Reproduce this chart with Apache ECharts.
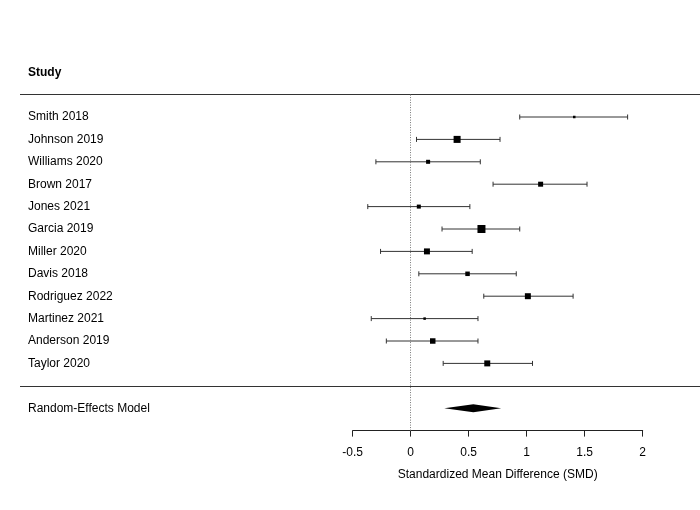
<!DOCTYPE html>
<html>
<head>
<meta charset="utf-8">
<script src="https://cdn.jsdelivr.net/npm/echarts@6/dist/echarts.min.js"></script>
<style>
  html, body { margin: 0; padding: 0; background: #fff; }
  #chart { width: 700px; height: 510px; }
</style>
</head>
<body>
<div id="chart"></div>
<script>
const studies = [
  "Smith 2018", "Johnson 2019", "Williams 2020", "Brown 2017", "Jones 2021", "Garcia 2019",
  "Miller 2020", "Davis 2018", "Rodriguez 2022", "Martinez 2021", "Anderson 2019", "Taylor 2020"
];
const smd = [1.41, 0.40, 0.15, 1.12, 0.07, 0.61, 0.14, 0.49, 1.01, 0.12, 0.19, 0.66];
const ciLower = [0.94, 0.05, -0.30, 0.71, -0.37, 0.27, -0.26, 0.07, 0.63, -0.34, -0.21, 0.28];
const ciUpper = [1.87, 0.77, 0.60, 1.52, 0.51, 0.94, 0.53, 0.91, 1.40, 0.58, 0.58, 1.05];
// study weights in percent
const weights = [4.1, 11.5, 6.6, 8.2, 6.6, 13.1, 9.8, 7.4, 9.8, 4.1, 9.0, 9.8];

const pooled = { label: "Random-Effects Model", est: 0.54, lower: 0.29, upper: 0.78 };
const xTicks = [-0.5, 0, 0.5, 1, 1.5, 2];

// row positions: header at -2, separators at -1 and 12, model at 13
const headerRow = -2;
const modelRow = studies.length + 1;
const separatorRows = [-1, studies.length];

const fontFamily = "'Liberation Sans', Arial, sans-serif";
const chart = echarts.init(document.getElementById("chart"));

function rowLabel(v) {
  if (v === headerRow) return "{b|Study}";
  if (v === modelRow) return pooled.label;
  if (v >= 0 && v < studies.length) return studies[v];
  return "";
}

const studyData = studies.map((name, i) => [smd[i], i, ciLower[i], ciUpper[i], weights[i]]);

chart.setOption({
  animation: false,
  backgroundColor: "#fff",
  textStyle: { fontFamily: fontFamily },
  grid: [
    { left: 352.7, right: 57.3, top: 49.8, bottom: 79.4 },
    { left: 20, right: 0, top: 49.8, bottom: 79.4 }
  ],
  xAxis: [
    {
      gridIndex: 0,
      type: "value",
      min: -0.5,
      max: 2,
      interval: 0.5,
      splitLine: { show: false },
      axisLine: { show: true, onZero: false, lineStyle: { color: "#222", width: 1 } },
      axisTick: { show: true, length: 6, lineStyle: { color: "#222" } },
      axisLabel: {
        color: "#000",
        fontSize: 12,
        margin: 16,
        formatter: (v) => (xTicks.includes(v) ? String(v) : "")
      },
      name: "Standardized Mean Difference (SMD)",
      nameLocation: "middle",
      nameGap: 38,
      nameTextStyle: { color: "#000", fontSize: 12 }
    },
    { gridIndex: 1, type: "value", min: 0, max: 1, show: false }
  ],
  yAxis: [
    {
      gridIndex: 0,
      type: "value",
      inverse: true,
      min: -3,
      max: modelRow + 1,
      interval: 1,
      show: false
    },
    {
      gridIndex: 1,
      type: "value",
      inverse: true,
      min: -3,
      max: modelRow + 1,
      interval: 1,
      axisLine: { show: false },
      axisTick: { show: false },
      splitLine: { show: false },
      axisLabel: {
        inside: true,
        margin: 8,
        color: "#000",
        fontSize: 12,
        formatter: rowLabel,
        rich: { b: { fontWeight: "bold", fontSize: 12, color: "#000" } }
      }
    }
  ],
  series: [
    {
      type: "line",
      xAxisIndex: 1,
      yAxisIndex: 1,
      data: [],
      silent: true,
      markLine: {
        symbol: "none",
        silent: true,
        label: { show: false },
        lineStyle: { color: "#333", width: 1, type: "solid" },
        data: separatorRows.map((r) => ({ yAxis: r }))
      }
    },
    {
      type: "line",
      xAxisIndex: 0,
      yAxisIndex: 0,
      data: [],
      silent: true,
      markLine: {
        symbol: "none",
        silent: true,
        label: { show: false },
        lineStyle: { color: "#777", width: 1, type: [1, 1.5] },
        data: [[{ coord: [0, -1] }, { coord: [0, modelRow + 1] }]]
      }
    },
    {
      type: "custom",
      xAxisIndex: 0,
      yAxisIndex: 0,
      data: studyData,
      renderItem: function (params, api) {
        const y = api.value(1);
        const pt = api.coord([api.value(0), y]);
        const lo = api.coord([api.value(2), y]);
        const hi = api.coord([api.value(3), y]);
        const size = api.value(4) * 0.61;
        const cap = 2.5;
        const line = { stroke: "#333", lineWidth: 1 };
        return {
          type: "group",
          children: [
            { type: "line", shape: { x1: lo[0], y1: lo[1], x2: hi[0], y2: hi[1] }, style: line },
            { type: "line", shape: { x1: lo[0], y1: lo[1] - cap, x2: lo[0], y2: lo[1] + cap }, style: line },
            { type: "line", shape: { x1: hi[0], y1: hi[1] - cap, x2: hi[0], y2: hi[1] + cap }, style: line },
            {
              type: "rect",
              shape: { x: pt[0] - size / 2, y: pt[1] - size / 2, width: size, height: size },
              style: { fill: "#000" }
            }
          ]
        };
      }
    },
    {
      type: "custom",
      xAxisIndex: 0,
      yAxisIndex: 0,
      data: [[pooled.est, modelRow, pooled.lower, pooled.upper]],
      renderItem: function (params, api) {
        const y = api.value(1);
        const c = api.coord([api.value(0), y]);
        const lo = api.coord([api.value(2), y]);
        const hi = api.coord([api.value(3), y]);
        const h = 4;
        return {
          type: "polygon",
          shape: { points: [[lo[0], c[1]], [c[0], c[1] - h], [hi[0], c[1]], [c[0], c[1] + h]] },
          style: { fill: "#000" }
        };
      }
    }
  ]
});
</script>
</body>
</html>
